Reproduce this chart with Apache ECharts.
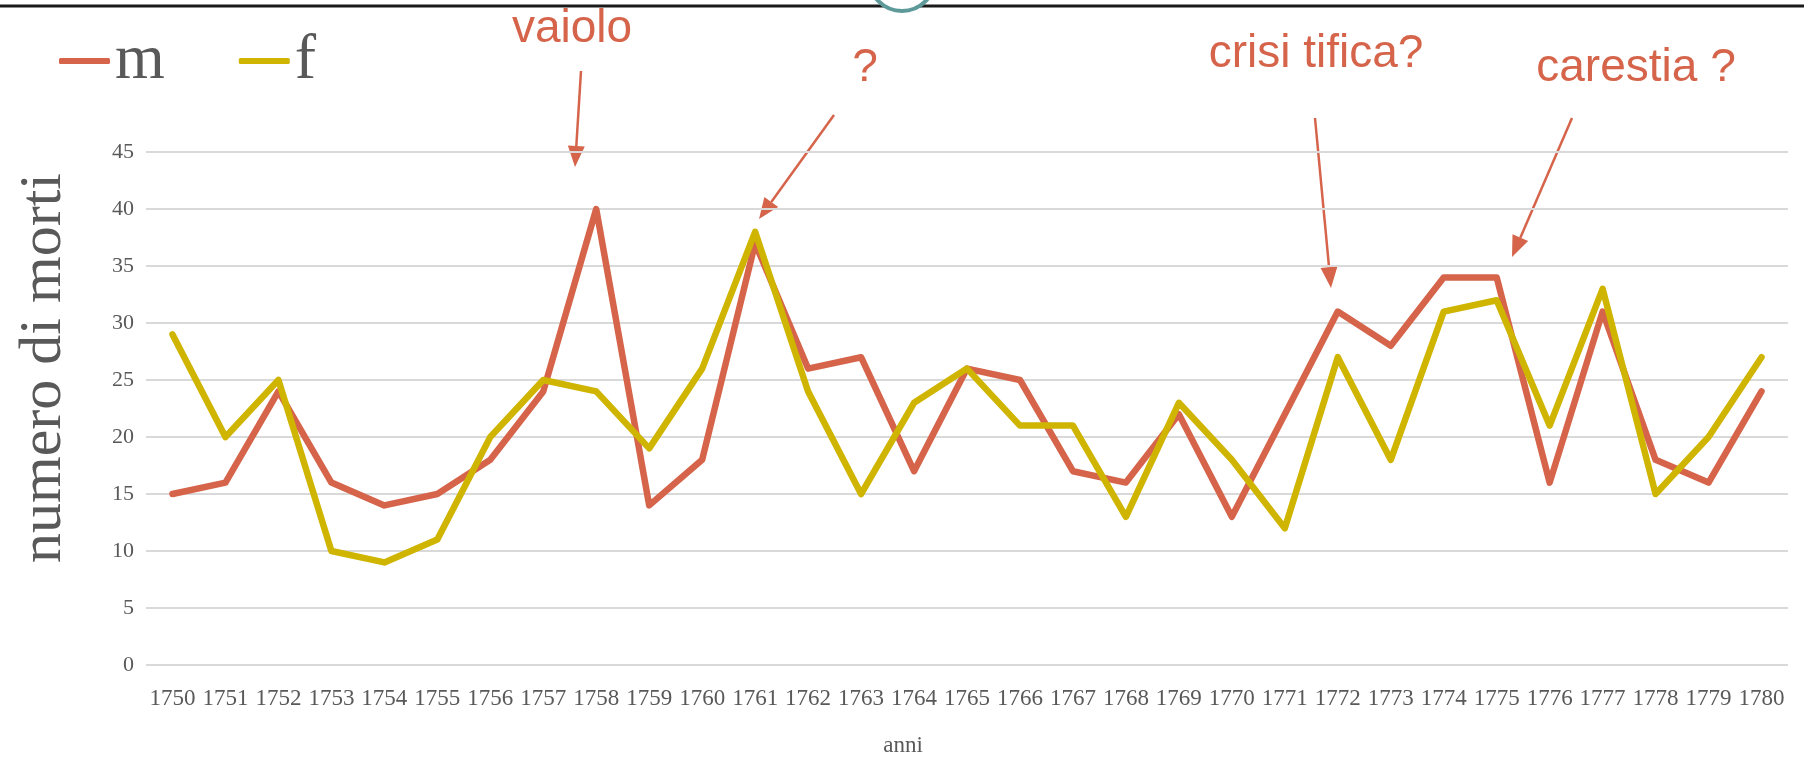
<!DOCTYPE html>
<html>
<head>
<meta charset="utf-8">
<script src="https://cdn.jsdelivr.net/npm/echarts@6/dist/echarts.min.js"></script>
<style>
  html, body { margin: 0; padding: 0; background: #fff; }
  #chart { width: 1804px; height: 758px; }
</style>
</head>
<body>
<div id="chart"></div>
<script>
  // anni
  const years = [
    '1750', '1751', '1752', '1753', '1754', '1755', '1756', '1757', '1758', '1759',
    '1760', '1761', '1762', '1763', '1764', '1765', '1766', '1767', '1768', '1769',
    '1770', '1771', '1772', '1773', '1774', '1775', '1776', '1777', '1778', '1779', '1780'
  ];
  // morti maschi
  const maschi = [
    15, 16, 24, 16, 14, 15, 18, 24, 40, 14,
    18, 37, 26, 27, 17, 26, 25, 17, 16, 22,
    13, 22, 31, 28, 34, 34, 16, 31, 18, 16, 24
  ];
  // morti femmine
  const femmine = [
    29, 20, 25, 10, 9, 11, 20, 25, 24, 19,
    26, 38, 24, 15, 23, 26, 21, 21, 13, 23,
    18, 12, 27, 18, 31, 32, 21, 33, 15, 20, 27
  ];
  const yTicks = { min: 0, max: 45, step: 5 };
  const noteTexts = ['vaiolo', '?', 'crisi tifica?', 'carestia ?'];

  const RED = '#D5644A';
  const YELLOW = '#CFB500';
  const GREY = '#595959';

  /** freccia: linea + punta triangolare */
  const arrow = (x1, y1, x2, y2) => {
    const len = Math.hypot(x2 - x1, y2 - y1);
    const ux = (x2 - x1) / len, uy = (y2 - y1) / len;
    const hl = 21, hw = 8.5;
    const bx = x2 - ux * hl, by = y2 - uy * hl;
    return [
      {
        type: 'line',
        shape: { x1, y1, x2: bx, y2: by },
        style: { stroke: RED, lineWidth: 2.5 },
      },
      {
        type: 'polygon',
        shape: { points: [[x2, y2], [bx - uy * hw, by + ux * hw], [bx + uy * hw, by - ux * hw]] },
        style: { fill: RED },
      },
    ];
  };

  const note = (text, x, y) => ({
    type: 'text',
    x, y,
    style: {
      text,
      fill: RED,
      font: '46px "Liberation Sans", Arial, sans-serif',
      align: 'center',
      verticalAlign: 'middle',
    },
  });

  const chart = echarts.init(document.getElementById('chart'));

  const option = {
    animation: false,
    backgroundColor: '#fff',
    grid: {
      left: 146,
      right: 16,
      top: 152,
      bottom: 93,
      containLabel: false,
      outerBoundsMode: 'none',
    },
    legend: {
      left: 54,
      top: 24,
      itemWidth: 51,
      itemHeight: 6,
      itemGap: 74,
      icon: 'roundRect',
      textStyle: {
        fontFamily: '"Liberation Serif", serif',
        fontSize: 64,
        color: GREY,
      },
      data: ['m', 'f'],
    },
    xAxis: {
      type: 'category',
      data: years,
      boundaryGap: true,
      axisLine: { show: false },
      axisTick: { show: false },
      axisLabel: {
        interval: 0,
        margin: 22,
        color: GREY,
        fontFamily: '"Liberation Serif", serif',
        fontSize: 23,
      },
    },
    yAxis: {
      type: 'value',
      min: yTicks.min,
      max: yTicks.max,
      interval: yTicks.step,
      axisLine: { show: false },
      axisTick: { show: false },
      axisLabel: {
        margin: 12,
        color: GREY,
        fontFamily: '"Liberation Serif", serif',
        fontSize: 22,
      },
      splitLine: {
        lineStyle: { color: '#D9D9D9', width: 2 },
      },
    },
    series: [
      {
        name: 'm',
        type: 'line',
        data: maschi,
        symbol: 'none',
        color: RED,
        lineStyle: { width: 6.5, color: RED, cap: 'round', join: 'round' },
      },
      {
        name: 'f',
        type: 'line',
        data: femmine,
        symbol: 'none',
        color: YELLOW,
        lineStyle: { width: 6.5, color: YELLOW, cap: 'round', join: 'round' },
      },
    ],
    graphic: [
      // bordo superiore della slide
      {
        type: 'line',
        shape: { x1: 0, y1: 6, x2: 1804, y2: 6 },
        style: { stroke: '#1a1a1a', lineWidth: 3 },
      },
      {
        type: 'circle',
        shape: { cx: 902, cy: -22, r: 33 },
        style: { fill: '#fff', stroke: '#5E9A9A', lineWidth: 4 },
      },
      // titoli assi
      {
        type: 'text',
        x: 44, y: 368,
        rotation: Math.PI / 2,
        style: {
          text: 'numero di morti',
          fill: GREY,
          font: '60px "Liberation Serif", serif',
          align: 'center',
          verticalAlign: 'middle',
        },
      },
      {
        type: 'text',
        x: 903, y: 746,
        style: {
          text: 'anni',
          fill: GREY,
          font: '23px "Liberation Serif", serif',
          align: 'center',
          verticalAlign: 'middle',
        },
      },
      // annotazioni
      note(noteTexts[0], 572, 29),
      note(noteTexts[1], 865, 68),
      note(noteTexts[2], 1316, 54),
      note(noteTexts[3], 1636, 68),
      ...arrow(581, 71, 575, 167),
      ...arrow(834, 115, 759, 219),
      ...arrow(1315, 118, 1331, 288),
      ...arrow(1572, 118, 1512, 257),
    ],
  };

  chart.setOption(option);
</script>
</body>
</html>
